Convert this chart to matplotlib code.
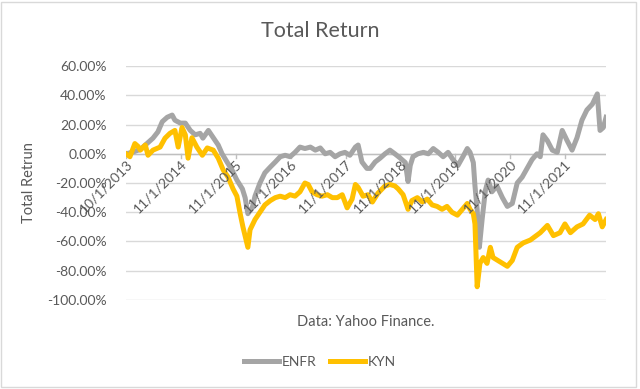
import numpy as np
import matplotlib.pyplot as plt
from matplotlib.patches import Rectangle

plt.rcParams['font.family'] = ['Lato', 'DejaVu Sans']

# x position in trading years since 10/1/2013 (one label every year of trading days)
enfr_t = [0.00, 0.11, 0.26, 0.35, 0.49, 0.58, 0.66, 0.75, 0.84, 0.89, 0.99, 1.08,
          1.17, 1.26, 1.35, 1.40, 1.50, 1.59, 1.68, 1.75, 1.84, 1.93, 2.02, 2.12,
          2.17, 2.22, 2.30, 2.35, 2.44, 2.53, 2.63, 2.72, 2.81, 2.90, 2.99, 3.08,
          3.17, 3.26, 3.36, 3.45, 3.54, 3.63, 3.72, 3.81, 3.90, 3.99, 4.08, 4.18,
          4.23, 4.30, 4.39, 4.45, 4.54, 4.63, 4.72, 4.81, 4.90, 5.00, 5.09, 5.14,
          5.18, 5.23, 5.32, 5.42, 5.51, 5.60, 5.69, 5.78, 5.87, 5.96, 6.05, 6.14,
          6.22, 6.27, 6.33, 6.36, 6.40, 6.44, 6.49, 6.55, 6.60, 6.67, 6.76, 6.86,
          6.95, 7.04, 7.13, 7.22, 7.31, 7.40, 7.49, 7.55, 7.60, 7.68, 7.77, 7.86,
          7.95, 8.04, 8.13, 8.22, 8.31, 8.40, 8.50, 8.59, 8.64, 8.70, 8.75]
enfr = [0, 1, 3, 6, 10.7, 15, 22, 25, 26.5, 23, 21, 21,
        16, 13, 14, 10.7, 16, 11, 6, 0, -5.6, -11, -18, -24,
        -30, -41, -37, -29, -20, -13, -9, -5.6, -2, -1, -2, 1,
        4.6, 3.6, 4.6, 2.5, 4, 0, 1, -2, 0, 1, -1, 4.6,
        6, -5.6, -10, -10, -5.6, -3, 0, 2.5, 0, -3, -6, -19,
        -8, -2, 0, 1, 0, 3.6, 1, -2, 1, -4, -8, -2,
        3.6, 1, -6, -22, -38, -64, -45, -25, -18, -26, -22, -30,
        -36, -34, -20, -16, -10, -4, 0, -2, 13, 9, 2.5, 1,
        16, 9, 2.5, 11, 23, 30, 34, 41, 16, 18, 25]

kyn_t = [0.00, 0.07, 0.16, 0.22, 0.26, 0.35, 0.40, 0.49, 0.62, 0.71, 0.80, 0.89,
         0.95, 1.02, 1.08, 1.13, 1.20, 1.29, 1.39, 1.48, 1.59, 1.68, 1.77, 1.86,
         1.95, 2.02, 2.08, 2.13, 2.22, 2.26, 2.35, 2.44, 2.53, 2.63, 2.72, 2.81,
         2.90, 2.99, 3.08, 3.17, 3.26, 3.32, 3.39, 3.48, 3.57, 3.67, 3.76, 3.85,
         3.94, 4.03, 4.12, 4.18, 4.23, 4.32, 4.41, 4.49, 4.59, 4.72, 4.81, 4.90,
         4.96, 5.05, 5.14, 5.21, 5.31, 5.40, 5.49, 5.58, 5.67, 5.76, 5.85, 5.94,
         6.04, 6.13, 6.22, 6.27, 6.33, 6.36, 6.40, 6.45, 6.51, 6.58, 6.64, 6.69,
         6.82, 6.95, 7.04, 7.13, 7.24, 7.37, 7.55, 7.68, 7.79, 7.91, 8.00, 8.10,
         8.22, 8.33, 8.45, 8.55, 8.61, 8.68, 8.75]
kyn = [0, -2, 7, 5, 2.5, 6, -1, 2.5, 4.6, 10.7, 14, 16,
       4.6, 18, 13, -3, 11, 4.6, -1, 4, 2.5, -3, -11, -16,
       -24, -29, -41, -50, -64, -52, -45, -40, -35, -32, -30, -29,
       -30, -28, -29, -26, -20, -21, -26, -28, -29, -28, -30, -30,
       -28, -37, -31, -21, -23, -29, -28, -33, -27, -22, -21, -22,
       -24, -28, -38, -32, -30, -33, -31, -35, -36, -38, -36, -40,
       -42, -38, -34, -38, -41, -48, -91, -75, -71, -75, -64, -71,
       -74, -77, -73, -64, -61, -59, -54, -49, -56, -54, -48, -54,
       -50, -48, -42, -45, -41, -50, -45]

tick_pos = [0, 1, 2, 3, 4, 5, 6, 7, 8]
tick_labels = ['10/1/2013', '11/1/2014', '11/1/2015', '11/1/2016', '11/1/2017',
               '11/1/2018', '11/1/2019', '11/1/2020', '11/1/2021']
y_ticks = [60, 40, 20, 0, -20, -40, -60, -80, -100]

txt = '#595959'
fig = plt.figure(figsize=(6.4, 3.89), dpi=100)
ax = fig.add_axes([0.197, 0.229, 0.750, 0.601])

ax.plot(enfr_t, enfr, color='#A5A5A5', lw=3.6, label='ENFR', solid_joinstyle='round')
ax.plot(kyn_t, kyn, color='#FFC000', lw=3.6, label='KYN', solid_joinstyle='round')

ax.set_xlim(0, 8.75)
ax.set_ylim(-100, 60)
ax.set_yticks(y_ticks)
ax.set_yticklabels([f'{v:.2f}%' for v in y_ticks], color=txt, fontsize=10)
ax.tick_params(axis='y', length=0, pad=14)
ax.set_xticks([])
ax.grid(axis='y', color='#D9D9D9', lw=1)
ax.set_axisbelow(True)
for s in ax.spines.values():
    s.set_visible(False)

# category axis crossing at zero
ax.axhline(0, color='#BFBFBF', lw=1, zorder=1)
for p, lab in zip(tick_pos, tick_labels):
    ax.plot([p, p], [0, -2.8], color='#BFBFBF', lw=1, zorder=1)
    ax.annotate(lab, (p, 0), xytext=(3, -6), textcoords='offset points',
                rotation=45, rotation_mode='anchor', ha='right', va='center',
                color=txt, fontsize=10, zorder=5)

ax.set_ylabel('Total Retrun', color=txt, fontsize=10.5, labelpad=8)
ax.set_xlabel('Data: Yahoo Finance.', color=txt, fontsize=10.5, labelpad=11)

fig.text(0.5, 0.92, 'Total Return', ha='center', va='center', color=txt, fontsize=15.5)
fig.legend(loc='center', bbox_to_anchor=(0.5, 0.07), ncol=2, frameon=False,
           fontsize=10, labelcolor=txt, handlelength=2.5, columnspacing=1.0,
           handletextpad=0.2)

fig.patches.append(Rectangle((0.002, 0.004), 0.992, 0.99, transform=fig.transFigure,
                             fill=False, edgecolor='#D9D9D9', lw=1))

fig.savefig('out.png', dpi=100)
